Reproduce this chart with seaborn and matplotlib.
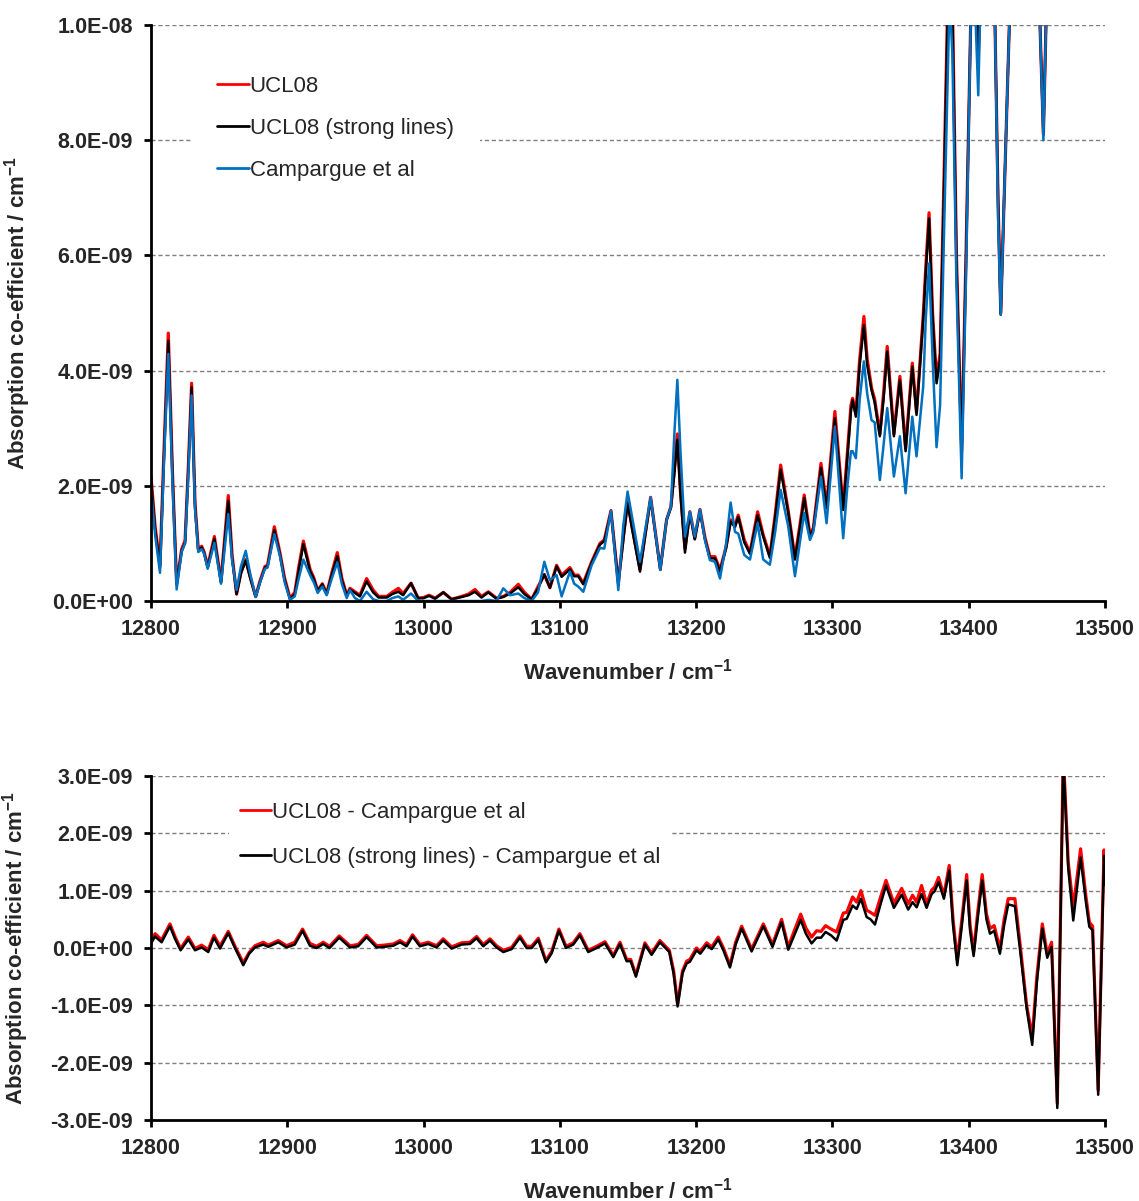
import numpy as np
import pandas as pd
import matplotlib
matplotlib.use("Agg")
import matplotlib.pyplot as plt
import seaborn as sns
from matplotlib.ticker import FuncFormatter, MultipleLocator

# ---------------- data (absorption in units of 1e-9 cm^-1) ----------------
wn_top = [12800, 12803, 12806.6, 12809.5, 12812.7, 12815.8, 12818.8, 12822.5, 12825, 12827.5,
          12829.8, 12832.3, 12834.7, 12837.2, 12839, 12841.6, 12846.5, 12851.4, 12856.7, 12859.5,
          12862.8, 12866, 12869.5, 12873, 12876.8, 12880, 12883.6, 12885.5, 12890.5, 12894.6,
          12898, 12902, 12905.5, 12908.5, 12911.8, 12916.7, 12919.5, 12922.3, 12925.7, 12928.9,
          12932.8, 12936.7, 12940, 12943.6, 12946, 12949.7, 12953.3, 12958.2, 12963, 12967,
          12973, 12977, 12981.5, 12985, 12990.8, 12996, 13000, 13004, 13008.5, 13014.5,
          13020.5, 13028, 13033, 13037.7, 13042.5, 13047.5, 13053.5, 13058.5, 13063.5, 13069.5,
          13074, 13079.3, 13084, 13088.6, 13092.7, 13097.6, 13101.3, 13107.4, 13110.5, 13113.5,
          13117.2, 13123.3, 13129.4, 13132.6, 13137.5, 13142.9, 13146.5, 13149.7, 13153, 13158.8,
          13166.6, 13173.7, 13178.3, 13181.5, 13184, 13186.2, 13188.5, 13191.8, 13195.4, 13199,
          13202.8, 13206.5, 13210.1, 13213.8, 13217.5, 13222, 13225.3, 13228.5, 13230.9, 13235.3,
          13239.5, 13245.1, 13249.2, 13254.1, 13258, 13262, 13267.6, 13272.5, 13276, 13279.3,
          13283.5, 13286, 13291.6, 13295.7, 13301.8, 13307.9, 13311, 13313.6, 13314.8, 13317.2,
          13320, 13323.1, 13325.5, 13328.7, 13331, 13334.8, 13337.5, 13340.2, 13345.1, 13349.5,
          13353.7, 13358.6, 13361.7, 13366.6, 13368.5, 13370.9, 13373.5, 13376.4, 13379, 13382,
          13386, 13388, 13391, 13394.8, 13398, 13401.4, 13404, 13407, 13409, 13414,
          13419.3, 13421.5, 13423.5, 13426, 13429.8, 13435, 13445, 13452.3, 13454.8, 13456.7,
          13465, 13500]

ucl08 = [2.16, 1.3, 0.62, 2.6, 4.65, 2.2, 0.3, 0.9, 1.05, 2.4,
         3.78, 1.7, 0.9, 0.95, 0.85, 0.6, 1.12, 0.34, 1.83, 0.8,
         0.12, 0.5, 0.72, 0.4, 0.08, 0.35, 0.6, 0.62, 1.29, 0.84,
         0.4, 0.05, 0.15, 0.6, 1.04, 0.55, 0.4, 0.18, 0.3, 0.13,
         0.5, 0.84, 0.4, 0.1, 0.22, 0.16, 0.1, 0.39, 0.19, 0.08,
         0.08, 0.15, 0.22, 0.13, 0.31, 0.05, 0.06, 0.10, 0.05, 0.15,
         0.03, 0.08, 0.12, 0.2, 0.08, 0.16, 0.05, 0.08, 0.15, 0.29,
         0.15, 0.03, 0.25, 0.46, 0.23, 0.62, 0.45, 0.58, 0.45, 0.45,
         0.31, 0.68, 1.0, 1.06, 1.57, 0.31, 1.1, 1.72, 1.29, 0.55,
         1.80, 0.56, 1.41, 1.64, 2.3, 2.90, 1.9, 0.91, 1.55, 1.09,
         1.59, 1.1, 0.77, 0.77, 0.54, 0.94, 1.41, 1.32, 1.49, 1.06,
         0.84, 1.55, 1.15, 0.78, 1.5, 2.36, 1.56, 0.75, 1.3, 1.84,
         1.15, 1.27, 2.39, 1.65, 3.29, 1.62, 2.6, 3.4, 3.52, 3.25,
         4.2, 4.94, 4.2, 3.7, 3.5, 2.9, 3.6, 4.42, 2.9, 3.90,
         2.65, 4.13, 3.28, 4.95, 5.8, 6.74, 5.0, 3.85, 4.3, 7.5,
         12.0, 10.5, 6.0, 2.6, 6.0, 10.0, 11.5, 9.4, 11.0, 13.0,
         10.0, 7.0, 5.0, 7.0, 10.0, 13.0, 13.5, 10.0, 8.1, 10.0,
         14.0, 15.0]

ucl08_strong = [2.09, 1.25, 0.58, 2.5, 4.52, 2.15, 0.29, 0.87, 1.01, 2.35,
                3.71, 1.65, 0.87, 0.93, 0.83, 0.58, 1.08, 0.32, 1.74, 0.75,
                0.12, 0.48, 0.70, 0.38, 0.07, 0.33, 0.58, 0.6, 1.23, 0.81,
                0.37, 0.03, 0.12, 0.55, 0.99, 0.52, 0.38, 0.17, 0.29, 0.12,
                0.47, 0.78, 0.37, 0.09, 0.2, 0.14, 0.08, 0.34, 0.15, 0.06,
                0.06, 0.12, 0.16, 0.1, 0.31, 0.05, 0.05, 0.09, 0.04, 0.15,
                0.03, 0.07, 0.1, 0.16, 0.06, 0.15, 0.04, 0.07, 0.13, 0.24,
                0.12, 0.03, 0.22, 0.46, 0.23, 0.6, 0.42, 0.55, 0.43, 0.43,
                0.29, 0.66, 0.98, 1.04, 1.55, 0.31, 1.05, 1.70, 1.25, 0.51,
                1.78, 0.54, 1.41, 1.62, 2.2, 2.80, 1.85, 0.84, 1.52, 1.07,
                1.56, 1.07, 0.74, 0.74, 0.51, 0.92, 1.38, 1.28, 1.46, 1.02,
                0.82, 1.49, 1.12, 0.75, 1.45, 2.28, 1.53, 0.72, 1.25, 1.79,
                1.12, 1.24, 2.31, 1.61, 3.17, 1.58, 2.5, 3.3, 3.49, 3.2,
                4.1, 4.79, 4.1, 3.66, 3.45, 2.86, 3.5, 4.33, 2.86, 3.84,
                2.60, 4.07, 3.23, 4.88, 5.7, 6.64, 4.9, 3.78, 4.2, 7.3,
                11.8, 10.3, 5.9, 2.53, 5.9, 10.0, 11.5, 9.33, 11.0, 13.0,
                10.0, 7.0, 4.97, 7.0, 10.0, 13.0, 13.5, 10.0, 8.1, 10.0,
                14.0, 15.0]

campargue = [1.97, 1.15, 0.49, 2.4, 4.29, 2.0, 0.2, 0.85, 1.0, 2.25,
             3.57, 1.6, 0.85, 0.9, 0.82, 0.56, 1.01, 0.3, 1.51, 0.7,
             0.19, 0.6, 0.87, 0.45, 0.07, 0.32, 0.56, 0.58, 1.16, 0.78,
             0.33, 0.02, 0.08, 0.4, 0.72, 0.45, 0.32, 0.14, 0.25, 0.1,
             0.4, 0.67, 0.3, 0.05, 0.19, 0.05, 0.0, 0.16, 0.03, 0.0,
             0.0, 0.05, 0.08, 0.02, 0.13, 0.0, 0.0, 0.0, 0.0, 0.0,
             0.0, 0.0, 0.0, 0.0, 0.0, 0.02, 0.0, 0.22, 0.1, 0.13,
             0.05, 0.0, 0.15, 0.68, 0.36, 0.45, 0.08, 0.51, 0.3, 0.25,
             0.16, 0.62, 0.92, 0.91, 1.57, 0.19, 1.3, 1.90, 1.46, 0.68,
             1.80, 0.54, 1.41, 1.64, 2.9, 3.84, 2.6, 1.12, 1.55, 1.12,
             1.59, 1.05, 0.71, 0.68, 0.39, 1.0, 1.71, 1.20, 1.17, 0.80,
             0.72, 1.35, 0.72, 0.63, 1.2, 1.93, 1.29, 0.43, 1.0, 1.53,
             1.06, 1.2, 2.16, 1.35, 3.03, 1.09, 2.0, 2.6, 2.60, 2.48,
             3.5, 4.16, 3.6, 3.14, 3.1, 2.10, 2.7, 3.35, 2.16, 2.86,
             1.87, 3.20, 2.51, 3.72, 4.9, 5.86, 4.2, 2.67, 3.4, 6.5,
             10.5, 9.5, 5.5, 2.13, 5.6, 10.0, 10.8, 8.78, 10.8, 12.5,
             10.0, 6.7, 4.97, 7.0, 10.0, 13.0, 13.5, 10.0, 8.0, 10.0,
             14.0, 15.0]

wn_diff = [12800, 12803, 12807.8, 12813.9, 12817.6, 12821.7, 12827.4, 12832.3, 12837.1, 12842,
           12846.2, 12850.6, 12856.7, 12861.6, 12867.7, 12872, 12876.3, 12882.4, 12886, 12893.4,
           12899.5, 12905.5, 12911.2, 12916.6, 12921.5, 12926.4, 12931, 12938.1, 12946, 12952,
           12958.2, 12965.5, 12971, 12977.8, 12982.7, 12987.5, 12991.9, 12997.3, 13003.4, 13009.5,
           13014.4, 13020.6, 13027.9, 13034, 13038.9, 13043.8, 13048.7, 13053.5, 13058.5, 13064.6,
           13070.7, 13075.6, 13079.3, 13084.2, 13089.8, 13094, 13099.3, 13104.5, 13109.8, 13114.7,
           13120.8, 13127, 13133.1, 13139.2, 13144.1, 13149, 13152, 13155.8, 13162.4, 13167.3,
           13173.4, 13180.3, 13183.5, 13186.4, 13190, 13193, 13195.4, 13200.3, 13203, 13207.7,
           13211.5, 13216.2, 13220, 13224.8, 13229, 13233.4, 13240.7, 13249.3, 13256, 13262.7,
           13267.6, 13272, 13276.7, 13280.5, 13284.7, 13288.4, 13291.7, 13295, 13299, 13303.1,
           13308, 13310.5, 13314.8, 13317.8, 13320.9, 13325.1, 13328, 13331.2, 13335.5, 13339.3,
           13345.1, 13350.8, 13355.6, 13358.8, 13361.8, 13365.4, 13369.1, 13372.8, 13375, 13377.9,
           13381.8, 13385.7, 13388.5, 13391.6, 13395, 13398.5, 13401, 13403.6, 13406.5, 13409.9,
           13413, 13415.6, 13418.7, 13422.9, 13426, 13429, 13433.9, 13438, 13442.5, 13446.6,
           13450, 13454, 13457.6, 13460.8, 13465, 13469.4, 13473, 13476.7, 13482.1, 13486,
           13488.5, 13490.9, 13495, 13498, 13499.3, 13500]

diff_ucl08 = [0.12, 0.25, 0.14, 0.42, 0.2, -0.01, 0.19, -0.01, 0.05, -0.03,
              0.22, 0.03, 0.29, 0.03, -0.26, -0.08, 0.04, 0.1, 0.05, 0.13,
              0.04, 0.1, 0.33, 0.08, 0.03, 0.1, 0.03, 0.21, 0.04, 0.06,
              0.22, 0.04, 0.05, 0.07, 0.13, 0.06, 0.23, 0.06, 0.1, 0.04,
              0.16, 0.02, 0.09, 0.1, 0.2, 0.06, 0.16, 0.04, -0.04, 0.01,
              0.21, 0.03, 0.03, 0.17, -0.22, -0.06, 0.33, 0.03, 0.09, 0.25,
              -0.04, 0.03, 0.11, -0.13, 0.1, -0.2, -0.2, -0.47, 0.09, -0.09,
              0.13, -0.04, -0.4, -0.98, -0.4, -0.23, -0.2, 0.0, -0.06, 0.09,
              0.02, 0.19, 0.0, -0.3, 0.1, 0.38, -0.02, 0.42, 0.06, 0.5,
              0.02, 0.3, 0.59, 0.35, 0.19, 0.3, 0.29, 0.39, 0.33, 0.28,
              0.61, 0.62, 0.89, 0.8, 1.0, 0.66, 0.62, 0.57, 0.9, 1.18,
              0.78, 1.04, 0.77, 0.92, 0.8, 1.09, 0.77, 1.01, 1.06, 1.23,
              0.92, 1.44, 0.5, -0.21, 0.5, 1.28, 0.4, -0.06, 0.6, 1.28,
              0.6, 0.34, 0.39, -0.02, 0.5, 0.86, 0.86, 0.0, -1.0, -1.55,
              -0.5, 0.42, -0.1, 0.10, -2.71, 3.4, 1.5, 0.71, 1.73, 0.9,
              0.45, 0.38, -2.48, 0.5, 1.71, 1.2]

diff_strong = [0.08, 0.2, 0.1, 0.38, 0.16, -0.04, 0.15, -0.04, 0.01, -0.07,
               0.18, -0.01, 0.26, 0.0, -0.3, -0.1, 0.01, 0.06, 0.02, 0.1,
               0.01, 0.06, 0.3, 0.04, 0.0, 0.07, 0.0, 0.18, 0.01, 0.03,
               0.19, 0.01, 0.02, 0.04, 0.1, 0.03, 0.2, 0.03, 0.07, 0.01,
               0.13, -0.01, 0.06, 0.07, 0.17, 0.03, 0.13, 0.01, -0.07, -0.02,
               0.18, 0.0, 0.0, 0.14, -0.25, -0.09, 0.3, 0.0, 0.06, 0.22,
               -0.07, 0.0, 0.08, -0.16, 0.07, -0.23, -0.23, -0.5, 0.06, -0.12,
               0.1, -0.07, -0.45, -1.02, -0.44, -0.27, -0.24, -0.04, -0.1, 0.05,
               -0.02, 0.15, -0.04, -0.34, 0.06, 0.34, -0.06, 0.38, 0.02, 0.45,
               -0.03, 0.22, 0.49, 0.25, 0.08, 0.18, 0.18, 0.28, 0.22, 0.13,
               0.49, 0.51, 0.74, 0.68, 0.86, 0.54, 0.5, 0.41, 0.78, 1.09,
               0.70, 0.93, 0.67, 0.8, 0.71, 0.94, 0.7, 0.94, 0.99, 1.15,
               0.86, 1.35, 0.4, -0.30, 0.4, 1.18, 0.3, -0.14, 0.5, 1.18,
               0.5, 0.25, 0.30, -0.10, 0.4, 0.76, 0.73, -0.1, -1.05, -1.69,
               -0.6, 0.34, -0.17, 0.02, -2.79, 3.3, 1.4, 0.48, 1.58, 0.8,
               0.37, 0.31, -2.56, 0.4, 1.61, 1.1]

x_ticks = [12800, 12900, 13000, 13100, 13200, 13300, 13400, 13500]

# ---------------- style ----------------
sns.set_style("white")
plt.rcParams["font.family"] = ["Liberation Sans", "DejaVu Sans"]
plt.rcParams["mathtext.fontset"] = "custom"
plt.rcParams["mathtext.rm"] = "Liberation Sans:bold"
plt.rcParams["mathtext.bf"] = "Liberation Sans:bold"
plt.rcParams["mathtext.it"] = "Liberation Sans:bold"

RED, BLACK, BLUE = "#FF0000", "#000000", "#0070C0"
E9 = 1e-9

top_df = pd.DataFrame({"wn": wn_top,
                       "UCL08": np.array(ucl08) * E9,
                       "UCL08 (strong lines)": np.array(ucl08_strong) * E9,
                       "Campargue et al": np.array(campargue) * E9})
bot_df = pd.DataFrame({"wn": wn_diff,
                       "UCL08 - Campargue et al": np.array(diff_ucl08) * E9,
                       "UCL08 (strong lines) - Campargue et al": np.array(diff_strong) * E9})

fig = plt.figure(figsize=(11.39, 12.01), dpi=100)
ax1 = fig.add_axes([151 / 1139, 1 - 601 / 1201, 954 / 1139, 576 / 1201])
ax2 = fig.add_axes([151 / 1139, 1 - 1120 / 1201, 954 / 1139, 344 / 1201])

sns.lineplot(data=top_df, x="wn", y="UCL08", ax=ax1, color=RED, lw=2.3, label="UCL08", sort=False)
sns.lineplot(data=top_df, x="wn", y="UCL08 (strong lines)", ax=ax1, color=BLACK, lw=1.8,
             label="UCL08 (strong lines)", sort=False)
sns.lineplot(data=top_df, x="wn", y="Campargue et al", ax=ax1, color=BLUE, lw=1.8,
             label="Campargue et al", sort=False)

sns.lineplot(data=bot_df, x="wn", y="UCL08 - Campargue et al", ax=ax2, color=RED, lw=2.3,
             label="UCL08 - Campargue et al", sort=False)
sns.lineplot(data=bot_df, x="wn", y="UCL08 (strong lines) - Campargue et al", ax=ax2, color=BLACK,
             lw=1.8, label="UCL08 (strong lines) - Campargue et al", sort=False)

fmt = FuncFormatter(lambda v, p: f"{v:.1E}")
for ax, (lo, hi, step) in [(ax1, (0, 1e-8, 2e-9)), (ax2, (-3e-9, 3e-9, 1e-9))]:
    ax.set_xlim(12800, 13500)
    ax.set_ylim(lo, hi)
    ax.set_xticks(x_ticks)
    ax.yaxis.set_major_locator(MultipleLocator(step))
    ax.yaxis.set_major_formatter(fmt)
    ax.set_axisbelow(True)
    ax.yaxis.grid(True, linestyle=(0, (3, 2)), color="#7f7f7f", lw=1.0)
    ax.xaxis.grid(False)
    for s in ["top", "right"]:
        ax.spines[s].set_visible(False)
    for s in ["left", "bottom"]:
        ax.spines[s].set_linewidth(2.0)
        ax.spines[s].set_color("black")
    ax.tick_params(axis="both", direction="out", length=5, width=2, color="black",
                   labelsize=15.5, pad=8, left=True, bottom=True)
    for lab in ax.get_xticklabels() + ax.get_yticklabels():
        lab.set_fontweight("bold")
    ax.set_xlabel("Wavenumber / cm$^{-1}$", fontsize=16, fontweight="bold", labelpad=13)
    ax.set_ylabel("Absorption co-efficient / cm$^{-1}$", fontsize=16, fontweight="bold", labelpad=14)

leg1 = ax1.legend(loc="upper left", bbox_to_anchor=(0.030, 0.977), fontsize=16, frameon=True,
                  facecolor="white", edgecolor="none", framealpha=1, fancybox=False,
                  handlelength=1.4, handletextpad=0.05, labelspacing=0.95, borderpad=1.2)
leg2 = ax2.legend(loc="upper left", bbox_to_anchor=(0.070, 0.99), fontsize=16, frameon=True,
                  facecolor="white", edgecolor="none", framealpha=1, fancybox=False,
                  handlelength=1.4, handletextpad=0.05, labelspacing=1.09, borderpad=0.5)
for leg in (leg1, leg2):
    for h in leg.get_lines():
        h.set_linewidth(2.0)

fig.savefig("out.png", dpi=100)
